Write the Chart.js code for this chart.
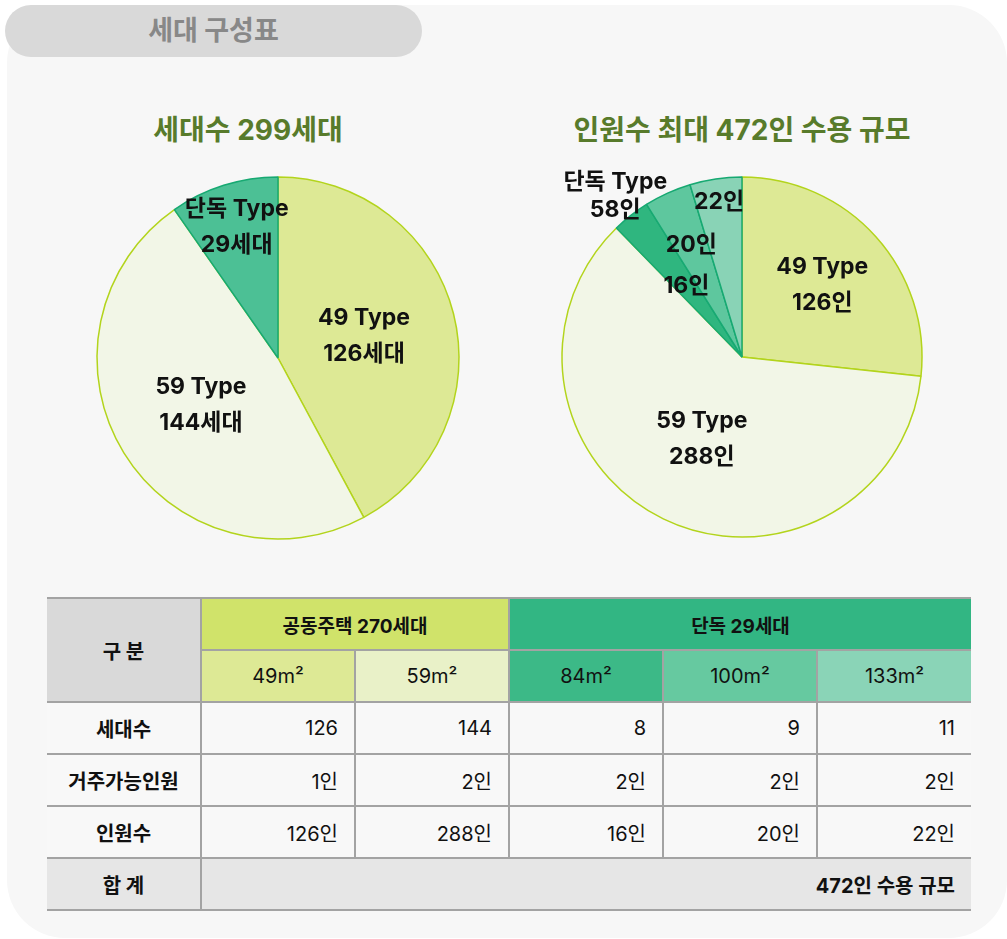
<!DOCTYPE html>
<html lang="ko">
<head>
<meta charset="utf-8">
<title>세대 구성표</title>
<script src="https://cdn.jsdelivr.net/npm/chart.js@4.4.1/dist/chart.umd.min.js"></script>
<style>
  html, body { margin: 0; padding: 0; background: #ffffff; }
  body { width: 1007px; height: 939px; position: relative; overflow: hidden;
         font-family: Inter, "Noto Sans CJK KR", sans-serif; color: #111; }
  .panel { position: absolute; left: 7px; top: 5px; width: 1000px; height: 933px;
           background: #f7f7f7; border-radius: 58px; }
  .tab { position: absolute; left: 5px; top: 5px; width: 417px; height: 52px;
         background: #d9d9d9; border-radius: 26px; color: #888888; font-weight: 700;
         font-size: 27px; line-height: 52px; text-align: center; }
  .title { position: absolute; top: 110px; font-size: 28px; line-height: 40px; font-weight: 700;
           color: #587b2b; white-space: nowrap; transform: translateX(-50%); }
  canvas { position: absolute; }
  table { position: absolute; left: 47px; top: 597px; border-collapse: collapse;
          table-layout: fixed; width: 924px; font-size: 20px; }
  td, th { height: 50px; padding: 0; border-top: 2px solid #a3a3a3; border-bottom: 2px solid #a3a3a3; }
  th { font-weight: 700; }
  td { text-align: right; padding-right: 16px; background: #f8f8f8; }
  .c { border-left: 2px solid #a3a3a3; }
  .head { background: #d9d9d9; font-size: 20px; }
  .rowh { text-align: center; padding-right: 0; font-weight: 700; font-size: 20px; }
  .sub th { font-weight: 400; font-size: 20px; }
  .total td { background: #e6e6e6; }
</style>
</head>
<body>
<div class="panel"></div>
<div class="tab">세대 구성표</div>
<div class="title" style="left:248px">세대수 299세대</div>
<div class="title" style="left:742px">인원수 최대 472인 수용 규모</div>
<canvas id="graficoSedae" width="440" height="440" style="left:58px;top:138px"></canvas>
<canvas id="graficoInwon" width="440" height="440" style="left:522px;top:137px"></canvas>
<table id="tabela">
  <colgroup><col><col><col><col><col><col></colgroup>
  <tr>
    <th class="head" rowspan="2">구 분</th>
    <th class="c" colspan="2" style="background:#d0e36a;font-size:19px">공동주택 270세대</th>
    <th class="c" colspan="3" style="background:#32b683;font-size:19px">단독 29세대</th>
  </tr>
  <tr class="sub" id="linhaTipos"></tr>
  <tr id="linhaSedae"></tr>
  <tr id="linhaCapa"></tr>
  <tr id="linhaInwon"></tr>
  <tr class="total">
    <td class="rowh">합 계</td>
    <td class="c" colspan="5" style="font-weight:700">472인 수용 규모</td>
  </tr>
</table>
<script>
// 데이터
const sedaeLabels = ['49 Type', '59 Type', '단독 Type'];
const sedaeCounts = [126, 144, 29];

const inwonLabels = ['49 Type', '59 Type', '84m²', '100m²', '133m²'];
const inwonCounts = [126, 288, 16, 20, 22];

const unitTypes = ['49m²', '59m²', '84m²', '100m²', '133m²'];
const unitSedae = [126, 144, 8, 9, 11];
const unitCapacity = [1, 2, 2, 2, 2];
const unitInwon = [126, 288, 16, 20, 22];

const tipoCores = ['#dde995', '#e9f1c8', '#3cb987', '#66c9a0', '#8ad4b7'];

// 조각 위에 텍스트를 그리는 플러그인
const sliceLabels = {
  id: 'sliceLabels',
  afterDatasetsDraw(chart, args, opts) {
    const ctx = chart.ctx;
    const meta = chart.getDatasetMeta(0);
    ctx.save();
    ctx.font = opts.font;
    ctx.fillStyle = '#111111';
    ctx.textAlign = 'center';
    ctx.textBaseline = 'middle';

    const put = (arc, factor, lines, lh) => {
      const p = arc.getProps(['x', 'y', 'startAngle', 'endAngle', 'outerRadius'], true);
      const mid = (p.startAngle + p.endAngle) / 2;
      const r = p.outerRadius * factor;
      const px = p.x + Math.cos(mid) * r;
      const py = p.y + Math.sin(mid) * r;
      lines.forEach((t, k) => ctx.fillText(t, px, py + (k - (lines.length - 1) / 2) * lh));
    };

    meta.data.forEach((arc, i) => {
      put(arc, opts.factors[i], opts.lines[i], opts.lineHeight);
    });

    if (opts.group) {
      const g = opts.group;
      put(meta.data[g.index], g.factor, g.lines, g.lineHeight);
    }
    ctx.restore();
  }
};

document.addEventListener("DOMContentLoaded", function () {
  const verdeAmarelo = '#b3d41c';
  const verde = '#17a972';
  const fonte = '700 23px Inter, "Noto Sans CJK KR", sans-serif';

  new Chart(document.getElementById('graficoSedae'), {
    type: 'pie',
    data: {
      labels: sedaeLabels,
      datasets: [{
        data: sedaeCounts,
        backgroundColor: ['#dde995', '#f2f6e7', '#4cc095'],
        borderColor: [verdeAmarelo, verdeAmarelo, verde],
        borderWidth: 1.5,
        radius: 181
      }]
    },
    options: {
      responsive: false,
      animation: false,
      events: [],
      plugins: {
        legend: { display: false },
        tooltip: { enabled: false },
        sliceLabels: {
          font: fonte,
          lineHeight: 36,
          factors: [0.49, 0.5, 0.76],
          lines: sedaeLabels.map((l, i) => [l, sedaeCounts[i] + '세대'])
        }
      }
    },
    plugins: [sliceLabels]
  });

  const danDokTotal = inwonCounts.slice(2).reduce((a, b) => a + b, 0);

  new Chart(document.getElementById('graficoInwon'), {
    type: 'pie',
    data: {
      labels: inwonLabels,
      datasets: [{
        data: inwonCounts,
        backgroundColor: ['#dde995', '#f2f6e7', '#2fb67f', '#5ec79e', '#89d3b6'],
        borderColor: [verdeAmarelo, verdeAmarelo, verde, verde, verde],
        borderWidth: 1.5,
        radius: 180
      }]
    },
    options: {
      responsive: false,
      animation: false,
      events: [],
      plugins: {
        legend: { display: false },
        tooltip: { enabled: false },
        sliceLabels: {
          font: fonte,
          lineHeight: 36,
          factors: [0.6, 0.51, 0.5, 0.68, 0.87],
          lines: inwonLabels.map((l, i) => i < 2 ? [l, inwonCounts[i] + '인'] : [inwonCounts[i] + '인']),
          group: { index: 2, factor: 1.14, lineHeight: 28, lines: ['단독 Type', danDokTotal + '인'] }
        }
      }
    },
    plugins: [sliceLabels]
  });

  // 표
  const fill = (id, titulo, valores, fn) => {
    const tr = document.getElementById(id);
    if (titulo !== null) {
      const h = document.createElement('td');
      h.className = 'rowh';
      h.textContent = titulo;
      tr.appendChild(h);
    }
    valores.forEach((v, i) => {
      const c = document.createElement(titulo === null ? 'th' : 'td');
      c.className = 'c';
      fn(c, v, i);
      tr.appendChild(c);
    });
  };

  fill('linhaTipos', null, unitTypes, (c, v, i) => { c.textContent = v; c.style.background = tipoCores[i]; });
  fill('linhaSedae', '세대수', unitSedae, (c, v) => { c.textContent = v; });
  fill('linhaCapa', '거주가능인원', unitCapacity, (c, v) => { c.textContent = v + '인'; });
  fill('linhaInwon', '인원수', unitInwon, (c, v) => { c.textContent = v + '인'; });
});
</script>
</body>
</html>
